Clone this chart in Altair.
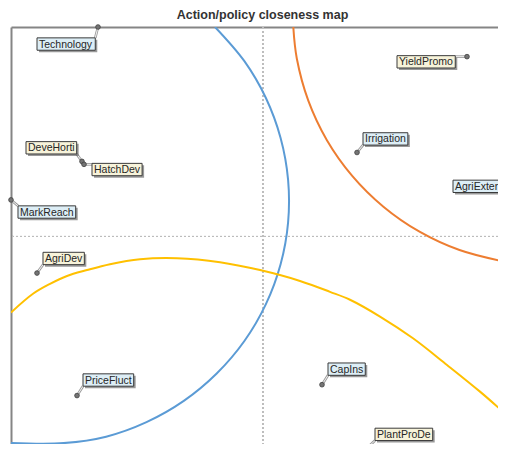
import altair as alt
import pandas as pd

# ---- data (1 unit = 100 reference px) ----
labels = ["Technology", "DeveHorti", "HatchDev", "MarkReach", "YieldPromo",
          "Irrigation", "AgriExtension", "AgriDev", "PriceFluct", "CapIns", "PlantProDe"]
point_x = [-1.65, -1.81, -1.79, -2.52, 2.04, 0.94, 2.49, -2.26, -1.86, 0.59, 1.01]
point_y = [2.12, 0.76, 0.73, 0.37, 1.82, 0.85, 0.42, -0.37, -1.61, -1.50, -2.17]
label_x = [-2.26, -2.37, -1.71, -2.45, 1.34, 1.00, 1.90, -2.20, -1.80, 0.65, 1.12]
label_y = [2.01, 0.96, 0.74, 0.31, 1.83, 1.05, 0.57, -0.16, -1.39, -1.28, -1.94]
label_group = ["blue", "cream", "cream", "blue", "cream", "blue", "blue",
               "cream", "blue", "blue", "cream"]

blue_x = [-0.48, -0.186, 0.029, 0.176, 0.251, 0.251, 0.176, 0.029, -0.186, -0.463,
          -0.792, -1.165, -1.569, -1.993, -2.52]
blue_y = [2.12, 1.774, 1.401, 0.997, 0.573, 0.143, -0.281, -0.685, -1.058, -1.387,
          -1.664, -1.879, -2.026, -2.091, -2.09]
orange_x = [0.303, 0.338, 0.453, 0.639, 0.892, 1.204, 1.565, 1.965, 2.43]
orange_y = [2.12, 1.801, 1.375, 0.975, 0.614, 0.302, 0.049, -0.137, -0.258]
yellow_x = [-2.52, -2.30, -2.13, -1.96, -1.76, -1.53, -1.23, -0.86, -0.43, -0.03, 0.37,
            0.67, 0.87, 1.17, 1.50, 1.84, 2.17, 2.43]
yellow_y = [-0.77, -0.58, -0.48, -0.40, -0.34, -0.28, -0.23, -0.22, -0.26, -0.34, -0.45,
            -0.56, -0.64, -0.81, -1.03, -1.30, -1.57, -1.80]

X_DOMAIN = [-2.52, 2.35]
Y_DOMAIN = [-2.10, 2.12]

# ---- label box sizes from Arial-like glyph widths ----
FONT_SIZE = 10.5
GLYPH = {'A': 667, 'g': 556, 'r': 333, 'i': 222, 'E': 667, 'x': 500, 't': 278, 'e': 556,
         'n': 556, 's': 500, 'o': 556, 'D': 722, 'v': 500, 'C': 722, 'a': 556, 'p': 556,
         'I': 278, 'H': 722, 'c': 500, 'h': 556, 'M': 833, 'k': 500, 'R': 722, 'l': 222,
         'P': 667, 'F': 611, 'u': 556, 'T': 611, 'y': 500, 'Y': 667, 'm': 833, 'd': 556}
BOX_H = 0.125


def text_w(s):
    return (sum(GLYPH.get(c, 556) for c in s) * FONT_SIZE / 1000.0 + 4) / 100.0


pts = pd.DataFrame({"label": labels, "px": point_x, "py": point_y,
                    "lx": label_x, "ly": label_y, "group": label_group})
pts["lx2"] = pts["lx"] + pts["label"].map(text_w)
pts["ly2"] = pts["ly"] - BOX_H
pts["ty"] = pts["ly"] - BOX_H / 2
pts["ax"] = pts[["px", "lx", "lx2"]].apply(lambda r: min(max(r.px, r.lx), r.lx2), axis=1)
pts["ay"] = pts[["py", "ly", "ly2"]].apply(lambda r: min(max(r.py, r.ly2), r.ly), axis=1)

curves = []
for name, xs, ys in [("blue", blue_x, blue_y), ("orange", orange_x, orange_y),
                     ("yellow", yellow_x, yellow_y)]:
    for i, (a, b) in enumerate(zip(xs, ys)):
        curves.append({"curve": name, "i": i, "x": a, "y": b})
curves = pd.DataFrame(curves)

xscale = alt.Scale(domain=X_DOMAIN, nice=False, zero=False)
yscale = alt.Scale(domain=Y_DOMAIN, nice=False, zero=False)
xaxis = alt.Axis(orient="top", labels=False, ticks=False, grid=False, title=None,
                 domainColor="#858585", domainWidth=2, minExtent=0, maxExtent=0)
yaxis = alt.Axis(orient="left", labels=False, ticks=False, grid=False, title=None,
                 domainColor="#858585", domainWidth=2, minExtent=0, maxExtent=0)


def X(f):
    return alt.X(f, type="quantitative", scale=xscale, axis=xaxis)


def Y(f):
    return alt.Y(f, type="quantitative", scale=yscale, axis=yaxis)


vline = alt.Chart(pts).mark_rule(color="#bdbdbd", strokeDash=[2, 2], strokeWidth=1).encode(
    x=alt.X(datum=0, type="quantitative", scale=xscale, axis=xaxis))
hline = alt.Chart(pts).mark_rule(color="#bdbdbd", strokeDash=[2, 2], strokeWidth=1).encode(
    y=alt.Y(datum=0, type="quantitative", scale=yscale, axis=yaxis))

lines = alt.Chart(curves).mark_line(strokeWidth=2, interpolate="catmull-rom", clip=True).encode(
    x=X("x"), y=Y("y"), order="i:Q", detail="curve:N",
    color=alt.Color("curve:N", legend=None,
                    scale=alt.Scale(domain=["blue", "orange", "yellow"],
                                    range=["#5b9bd5", "#ed7d31", "#ffc000"])))

leader_shadow = alt.Chart(pts).mark_rule(color="#9a9a9a", strokeWidth=2.6).encode(
    x=X("px"), y=Y("py"), x2="ax", y2="ay")
leader = alt.Chart(pts).mark_rule(color="#f2f2f2", strokeWidth=1).encode(
    x=X("px"), y=Y("py"), x2="ax", y2="ay")

dots = alt.Chart(pts).mark_circle(size=22, color="#747474", stroke="#404040",
                                  strokeWidth=0.8, opacity=1).encode(x=X("px"), y=Y("py"))

shadow = alt.Chart(pts).mark_rect(color="#555555", opacity=0.6, xOffset=2, x2Offset=2,
                                  yOffset=2, y2Offset=2, clip=True).encode(
    x=X("lx"), x2="lx2", y=Y("ly"), y2="ly2")
boxes = alt.Chart(pts).mark_rect(stroke="#3a3a3a", strokeWidth=1, clip=True).encode(
    x=X("lx"), x2="lx2", y=Y("ly"), y2="ly2",
    fill=alt.Fill("group:N", legend=None,
                  scale=alt.Scale(domain=["blue", "cream"], range=["#ddeef6", "#f7f3da"])))
texts = alt.Chart(pts).mark_text(align="left", baseline="middle", dx=2, dy=0.5,
                                 font="Liberation Sans", fontSize=FONT_SIZE,
                                 color="#262626", clip=True).encode(
    x=X("lx"), y=Y("ty"), text="label:N")

chart = alt.layer(vline, hline, lines, leader_shadow, leader, dots, shadow, boxes, texts).properties(
    width=487, height=417,
    padding={"left": 3, "top": 19, "right": 0, "bottom": 0},
    autosize=alt.AutoSizeParams(type="none"),
    title=alt.TitleParams("Action/policy closeness map", font="Liberation Sans",
                          fontSize=12.5, fontWeight="bold", color="#333333",
                          anchor="middle", dx=8, offset=2),
).configure_view(stroke="transparent")

chart.save("out.html", embed_options={"renderer": "svg", "actions": False})
